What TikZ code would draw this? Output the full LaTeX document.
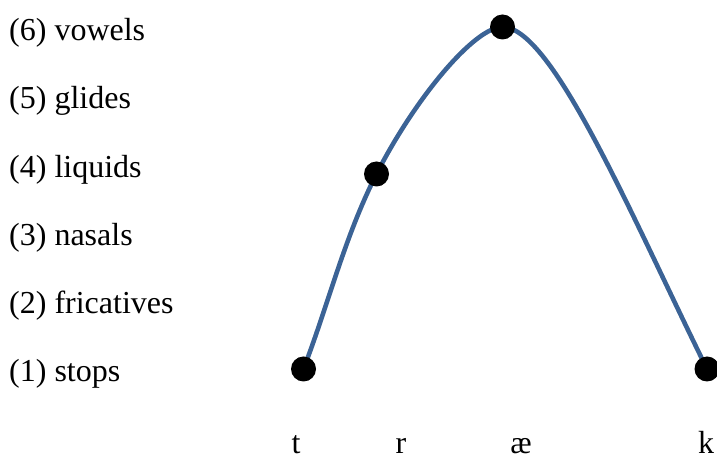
\documentclass[tikz,border=0pt]{standalone}
\usepackage{fontspec}
\setmainfont{Liberation Serif}
\definecolor{curveblue}{RGB}{59,99,150}
\begin{document}
\begin{tikzpicture}[x=1pt,y=1pt,
  lab/.style={anchor=base west,inner sep=0pt,font=\fontsize{32}{37}\selectfont},
  seg/.style={anchor=base,inner sep=0pt,font=\fontsize{32}{37}\selectfont},
  dot/.style={circle,fill=black,inner sep=0pt,minimum size=25pt},
  curve/.style={draw=curveblue,line width=4.5pt}]
\useasboundingbox (0,0) rectangle (717,457);
% sonority scale labels
\node[lab] (l6) at (9,416) {(6) vowels};
\node[lab] (l5) at (9,348) {(5) glides};
\node[lab] (l4) at (9,279) {(4) liquids};
\node[lab] (l3) at (9,211) {(3) nasals};
\node[lab] (l2) at (9,143) {(2) fricatives};
\node[lab] (l1) at (9,75) {(1) stops};
% segments
\node[seg] (st) at (296,3) {t};
\node[seg] (sr) at (401,3) {r};
\node[seg] (sa) at (521,3) {æ};
\node[seg] (sk) at (706,3) {k};
% curve points
\coordinate (t) at (303.5,88);
\coordinate (m) at (376.5,283);
\coordinate (p) at (502.5,430);
\coordinate (k) at (707,88);
% soft shadow
\begin{scope}[shift={(1.3,-1.3)}]
\draw[line width=4.5pt,black!30,opacity=0.5]
  (t) .. controls +(69:70) and +(243:70) .. (m)
      .. controls +(63:85) and +(-28,0) .. (p)
      .. controls +(50,0) and +(116.3:170) .. (k);
\end{scope}
\draw[curve]
  (t) .. controls +(69:70) and +(243:70) .. (m)
      .. controls +(63:85) and +(-28,0) .. (p)
      .. controls +(50,0) and +(116.3:170) .. (k);
% dots
\node[dot] (dt) at (t) {};
\node[dot] (dm) at (m) {};
\node[dot] (dp) at (p) {};
\node[dot] (dk) at (k) {};
\end{tikzpicture}
\end{document}
